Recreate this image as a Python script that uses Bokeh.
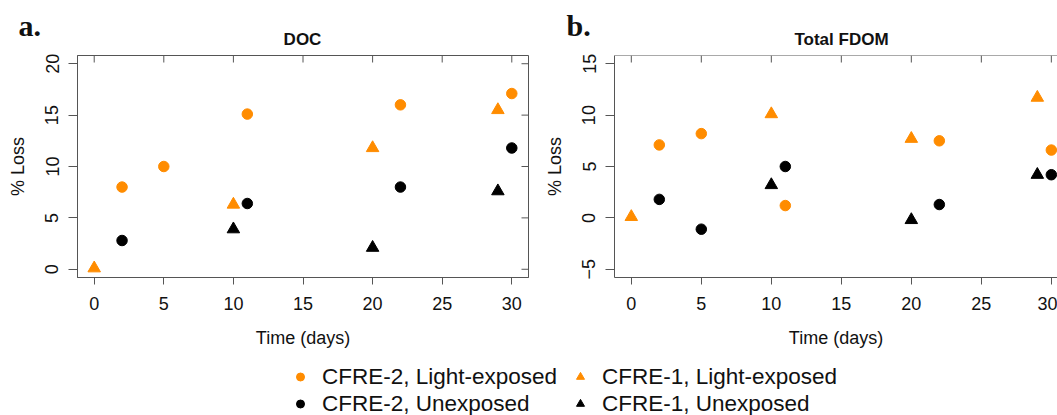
from bokeh.plotting import figure
from bokeh.models import Range1d, FixedTicker, Legend, LegendItem, Span
from bokeh.core.properties import value
from bokeh.layouts import column, row
from bokeh.embed import file_html
from bokeh.resources import INLINE

# ---------------- data ----------------
x_ticks = [0, 5, 10, 15, 20, 25, 30]
doc_y_ticks = [0, 5, 10, 15, 20]
fdom_y_ticks = [-5, 0, 5, 10, 15]

# Panel a: DOC % loss
doc_c2_light_x = [2, 5, 11, 22, 30]
doc_c2_light_y = [8.0, 10.0, 15.1, 16.0, 17.1]
doc_c1_light_x = [0, 10, 20, 29]
doc_c1_light_y = [0.1, 6.3, 11.8, 15.5]
doc_c2_dark_x = [2, 11, 22, 30]
doc_c2_dark_y = [2.8, 6.4, 8.0, 11.8]
doc_c1_dark_x = [10, 20, 29]
doc_c1_dark_y = [3.9, 2.1, 7.6]

# Panel b: Total FDOM % loss
fdom_c2_light_x = [2, 5, 11, 22, 30]
fdom_c2_light_y = [7.1, 8.2, 1.2, 7.5, 6.6]
fdom_c1_light_x = [0, 10, 20, 29]
fdom_c1_light_y = [0.1, 10.1, 7.7, 11.7]
fdom_c2_dark_x = [2, 5, 11, 22, 30]
fdom_c2_dark_y = [1.8, -1.1, 5.0, 1.3, 4.2]
fdom_c1_dark_x = [10, 20, 29]
fdom_c1_dark_y = [3.2, -0.2, 4.2]

panel_titles = ["DOC", "Total FDOM"]
panel_letters = ["a.", "b."]
legend_labels = ["CFRE-2, Light-exposed", "CFRE-1, Light-exposed",
                 "CFRE-2, Unexposed", "CFRE-1, Unexposed"]

# ---------------- style ----------------
ORANGE = "#FF8C00"
BLACK = "#000000"
AXIS = "#555555"
TXT = "#111111"
FONT = "Liberation Sans"
W = 1057
HDR_H = 48
ROW_H = 302
LEG_H = 65
FRAME_H = 222
TICK_LEN = 7


def style_axis(ax, ticks, tick_out, vertical=False):
    ax.ticker = FixedTicker(ticks=ticks)
    ax.axis_line_color = AXIS
    ax.major_tick_line_color = AXIS
    ax.minor_tick_line_color = None
    ax.major_tick_in = 0
    ax.major_tick_out = tick_out
    ax.major_label_text_font = FONT
    ax.major_label_text_font_size = "18px"
    ax.major_label_text_color = TXT
    ax.axis_label_text_font = FONT
    ax.axis_label_text_font_style = "normal"
    ax.axis_label_text_font_size = "18px"
    ax.axis_label_text_color = TXT
    if vertical:
        ax.major_label_orientation = "vertical"


def make_panel(width, ml, mr, xr, yr, yticks, series, right_side):
    frame_w = width - ml - mr
    p = figure(width=width, height=ROW_H, x_range=Range1d(*xr), y_range=Range1d(*yr),
               output_backend="svg", toolbar_location=None,
               min_border_left=ml, min_border_right=mr,
               min_border_top=7, min_border_bottom=73)
    p.title.visible = False
    p.xgrid.visible = False
    p.ygrid.visible = False
    p.background_fill_color = "white"
    p.border_fill_color = "white"

    xb = p.xaxis[0]
    style_axis(xb, x_ticks, 7)
    xb.major_label_standoff = 12
    xb.axis_label = "Time (days)"
    xb.axis_label_standoff = 15

    yl = p.yaxis[0]
    style_axis(yl, yticks, 9, vertical=True)
    yl.major_label_standoff = 10
    yl.axis_label = "% Loss"
    yl.axis_label_standoff = 15

    # inward tick marks on top (and right) of the box
    dy = TICK_LEN * (yr[1] - yr[0]) / FRAME_H
    dx = TICK_LEN * (xr[1] - xr[0]) / frame_w
    p.segment(x0=x_ticks, x1=x_ticks, y0=[yr[1]] * len(x_ticks), y1=[yr[1] - dy] * len(x_ticks),
              line_color=AXIS, line_width=1)
    if right_side:
        p.outline_line_color = AXIS
        p.segment(x0=[xr[1]] * len(yticks), x1=[xr[1] - dx] * len(yticks), y0=yticks, y1=yticks,
                  line_color=AXIS, line_width=1)
    else:
        p.outline_line_color = None
        p.add_layout(Span(location=yr[1], dimension="width", line_color=AXIS, line_width=1))

    for (xs, ys, marker, color, size) in series:
        p.scatter(xs, ys, marker=marker, size=size, fill_color=color, line_color=color)
    return p


pa = make_panel(538, 77, 10, (-1.2, 31.2), (-0.8, 20.8), doc_y_ticks, [
    (doc_c2_light_x, doc_c2_light_y, "circle", ORANGE, 10.5),
    (doc_c1_light_x, doc_c1_light_y, "triangle", ORANGE, 12.5),
    (doc_c2_dark_x, doc_c2_dark_y, "circle", BLACK, 10.5),
    (doc_c1_dark_x, doc_c1_dark_y, "triangle", BLACK, 12.5),
], True)

pb = make_panel(519, 76, 0, (-1.2, 30.44), (-5.8, 15.8), fdom_y_ticks, [
    (fdom_c2_light_x, fdom_c2_light_y, "circle", ORANGE, 10.5),
    (fdom_c1_light_x, fdom_c1_light_y, "triangle", ORANGE, 12.5),
    (fdom_c2_dark_x, fdom_c2_dark_y, "circle", BLACK, 10.5),
    (fdom_c1_dark_x, fdom_c1_dark_y, "triangle", BLACK, 12.5),
], False)

# ---------------- header strip (panel titles and letters) ----------------
hdr = figure(width=W, height=HDR_H, x_range=Range1d(0, W), y_range=Range1d(HDR_H, 0),
             output_backend="svg", toolbar_location=None, min_border=0,
             x_axis_type=None, y_axis_type=None)
hdr.title.visible = False
hdr.outline_line_color = None
hdr.xgrid.visible = False
hdr.ygrid.visible = False
hdr.text(x=[302, 841], y=[39, 39], text=panel_titles, text_font=value(FONT),
         text_font_style=value("bold"), text_font_size=value("17px"), text_color=TXT,
         text_align=value("center"), text_baseline=value("middle"))
hdr.text(x=[18, 566], y=[24.5, 24.5], text=panel_letters, text_font=value("Liberation Serif"),
         text_font_style=value("bold"), text_font_size=value("30px"), text_color=TXT,
         text_align=value("left"), text_baseline=value("middle"))

# ---------------- legend strip ----------------
pl = figure(width=W, height=LEG_H, x_range=Range1d(0, 1), y_range=Range1d(0, 1),
            output_backend="svg", toolbar_location=None, min_border=0,
            x_axis_type=None, y_axis_type=None)
pl.title.visible = False
pl.outline_line_color = None
pl.xgrid.visible = False
pl.ygrid.visible = False
markers = ["circle", "triangle", "circle", "triangle"]
colors = [ORANGE, ORANGE, BLACK, BLACK]
rends = [pl.scatter([5], [5], marker=m, size=10, fill_color=c, line_color=c)
         for m, c in zip(markers, colors)]


def make_legend(idx, x):
    return Legend(items=[LegendItem(label=legend_labels[i], renderers=[rends[i]]) for i in idx],
                  location=(x, -2), orientation="vertical", padding=0, margin=0, spacing=0,
                  glyph_width=20, glyph_height=27, label_height=27, label_standoff=12,
                  label_text_font=FONT, label_text_font_size="22.5px", label_text_color=TXT,
                  border_line_color=None, background_fill_alpha=0)


pl.add_layout(make_legend([0, 2], 290))
pl.add_layout(make_legend([1, 3], 570))

layout = column(hdr, row(pa, pb), pl)
open("out.html", "w").write(file_html(layout, INLINE))
